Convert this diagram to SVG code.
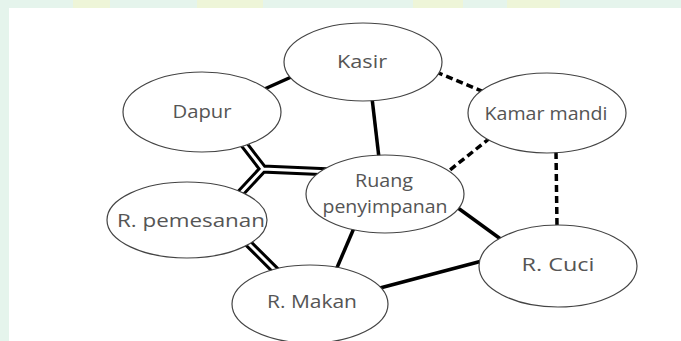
<svg xmlns="http://www.w3.org/2000/svg" width="681" height="341" viewBox="0 0 681 341">
<style>
.node ellipse{fill:#fff;stroke:#444;stroke-width:1.2}
.node text{font-family:"Open Sans","Liberation Sans",sans-serif;font-size:19px;fill:#555;text-anchor:middle}
.solid{stroke:#000;stroke-width:3.5;fill:none}
.dash{stroke:#000;stroke-width:3.5;fill:none;stroke-dasharray:7 4}
.dblb{stroke:#000;stroke-width:9;fill:none;stroke-linejoin:miter}
.dblw{stroke:#fff;stroke-width:3;fill:none;stroke-linejoin:miter}
</style>
<g id="background">
<rect x="0" y="0" width="681" height="341" fill="#e5f4ec"/>
<rect x="73" y="0" width="37" height="8" fill="#eef5d8"/>
<rect x="197" y="0" width="66" height="8" fill="#eef5d8"/>
<rect x="413" y="0" width="50" height="8" fill="#eef5d8"/>
<rect x="507" y="0" width="53" height="8" fill="#eef5d8"/>
<rect x="9" y="8" width="672" height="333" fill="#fff"/>
</g>
<g id="connectors">
<line class="solid" x1="260" y1="91" x2="298" y2="74"/>
<line class="solid" x1="372" y1="98" x2="379" y2="158"/>
<line class="solid" x1="458" y1="208" x2="502" y2="240"/>
<line class="solid" x1="380" y1="288" x2="482" y2="261"/>
<line class="solid" x1="354" y1="228" x2="336" y2="270"/>
<line class="dash" x1="436" y1="72" x2="484" y2="92"/>
<line class="dash" x1="490" y1="138" x2="445" y2="174"/>
<line class="dash" x1="556" y1="152" x2="557" y2="226"/>
<path class="dblb" d="M243,143 L263,169 L332,172 M263,169 L236,198 M247,242 L276,271"/>
<path class="dblw" d="M243,143 L263,169 L332,172 M263,169 L236,198 M247,242 L276,271"/>
</g>
<g id="kasir" class="node"><ellipse cx="363" cy="62" rx="79" ry="39"/><text x="362" y="68" textLength="50" lengthAdjust="spacingAndGlyphs">Kasir</text></g>
<g id="dapur" class="node"><ellipse cx="202" cy="112" rx="79" ry="40"/><text x="202" y="118" textLength="59" lengthAdjust="spacingAndGlyphs">Dapur</text></g>
<g id="kamar-mandi" class="node"><ellipse cx="547" cy="113" rx="79" ry="40"/><text x="546" y="120" textLength="123" lengthAdjust="spacingAndGlyphs">Kamar mandi</text></g>
<g id="ruang-penyimpanan" class="node"><ellipse cx="385" cy="194" rx="79" ry="39"/><text x="384" y="187" textLength="58" lengthAdjust="spacingAndGlyphs">Ruang</text><text x="385" y="213" textLength="125" lengthAdjust="spacingAndGlyphs">penyimpanan</text></g>
<g id="r-pemesanan" class="node"><ellipse cx="187" cy="220" rx="80" ry="38"/><text x="191" y="227" textLength="148" lengthAdjust="spacingAndGlyphs">R. pemesanan</text></g>
<g id="r-cuci" class="node"><ellipse cx="558" cy="266" rx="79" ry="41"/><text x="558" y="271" textLength="73" lengthAdjust="spacingAndGlyphs">R. Cuci</text></g>
<g id="r-makan" class="node"><ellipse cx="310" cy="304" rx="78" ry="39"/><text x="312" y="308" textLength="90" lengthAdjust="spacingAndGlyphs">R. Makan</text></g>
</svg>
